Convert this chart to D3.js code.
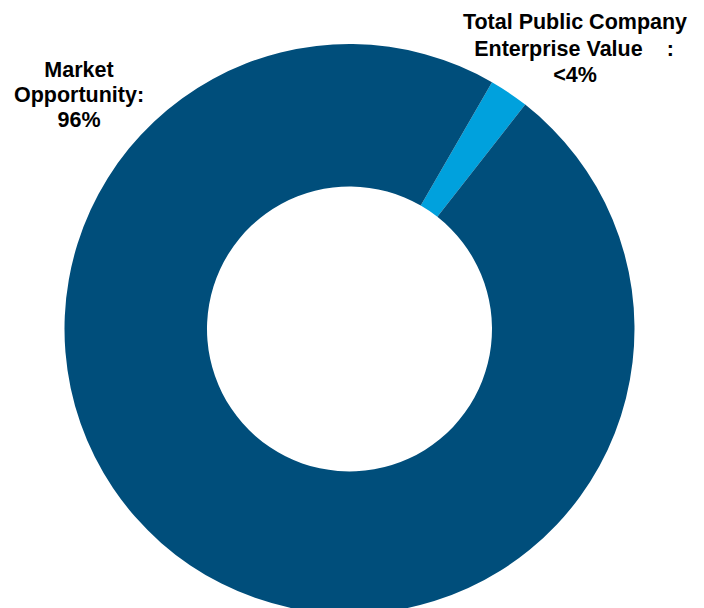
<!DOCTYPE html>
<html>
<head>
<meta charset="utf-8">
<script src="https://cdn.jsdelivr.net/npm/d3@7"></script>
<style>
  html, body { margin: 0; padding: 0; background: #ffffff; }
  svg { display: block; }
  text { font-family: "Liberation Sans", Arial, sans-serif; font-weight: bold; fill: #000; }
</style>
</head>
<body>
<svg id="chart" width="704" height="608"></svg>
<script>
// Segments of the donut, in drawing order (clockwise from the start angle)
const segments = ["Total Public Company Enterprise Value", "Market Opportunity"];
const shares = [2.2, 96];
const colors = ["#00a1dd", "#004e7b"];

// Label lines for each segment
const publicLabel = ["Total Public Company", "Enterprise Value", "<4%"];
const marketLabel = ["Market", "Opportunity:", "96%"];

const svg = d3.select("#chart");
const cx = 349.5, cy = 329;
const outerR = 285, innerR = 142.5;

const pie = d3.pie()
  .sort(null)
  .value(d => d.value)
  .startAngle(30 * Math.PI / 180)
  .endAngle(30 * Math.PI / 180 + 2 * Math.PI);

const arc = d3.arc().innerRadius(innerR).outerRadius(outerR);

const color = d3.scaleOrdinal().domain(segments).range(colors);

const data = segments.map((s, i) => ({ name: s, value: shares[i] }));

svg.append("g")
  .attr("transform", `translate(${cx},${cy})`)
  .selectAll("path")
  .data(pie(data))
  .join("path")
  .attr("d", arc)
  .attr("fill", d => color(d.data.name));

const fontSize = 21.5;

// Market Opportunity label (left)
const mk = svg.append("text")
  .attr("text-anchor", "middle")
  .attr("font-size", fontSize);
mk.selectAll("tspan")
  .data(marketLabel)
  .join("tspan")
  .attr("x", 79)
  .attr("y", (d, i) => 77 + i * 25)
  .text(d => d);

// Public company label (top right)
const pub = svg.append("g").attr("font-size", fontSize);
pub.append("text")
  .attr("text-anchor", "middle")
  .attr("x", 575).attr("y", 29)
  .text(publicLabel[0]);
const l2 = pub.append("text")
  .attr("text-anchor", "middle")
  .attr("x", 574).attr("y", 56);
l2.append("tspan").text(publicLabel[1]);
l2.append("tspan").attr("dx", 24).text(":");
pub.append("text")
  .attr("text-anchor", "middle")
  .attr("x", 575).attr("y", 82)
  .text(publicLabel[2]);
</script>
</body>
</html>
